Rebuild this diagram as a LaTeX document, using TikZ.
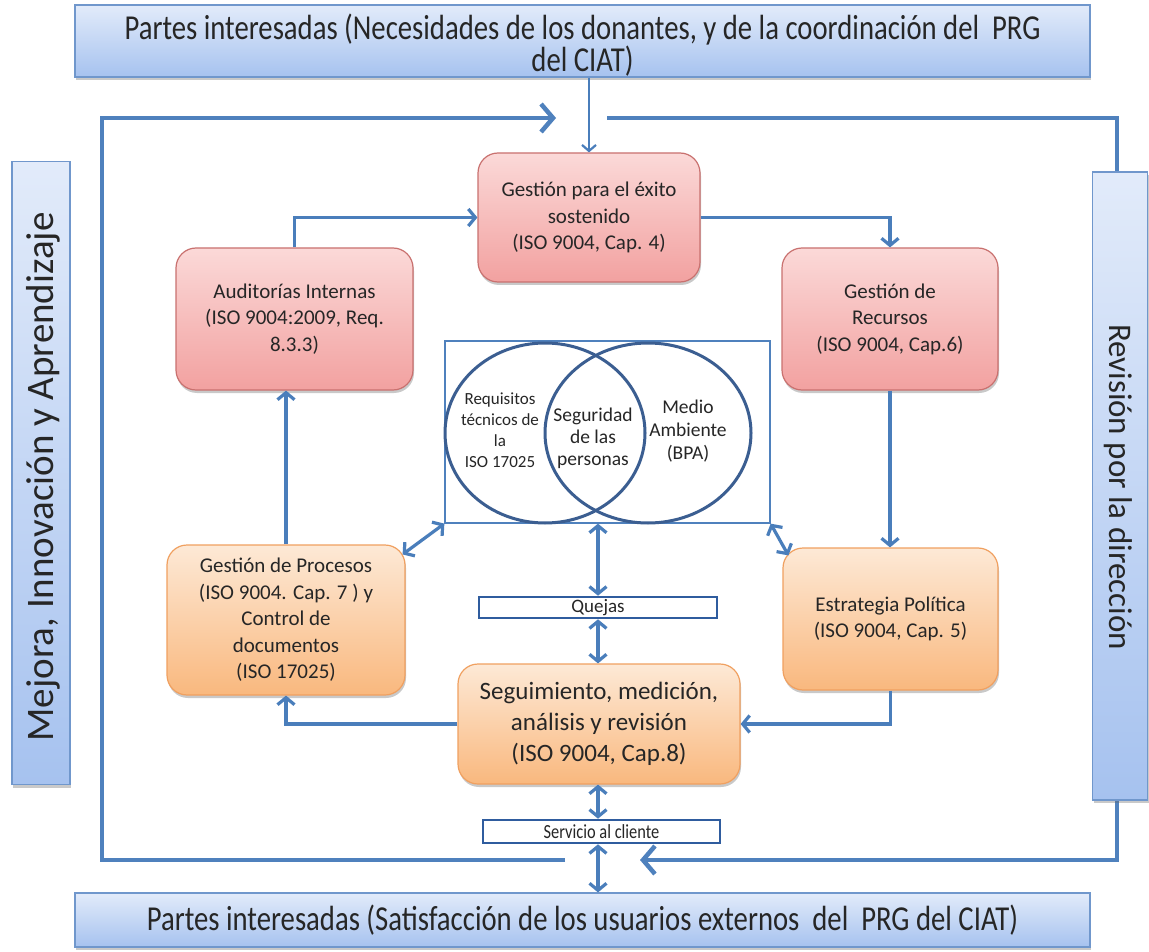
\documentclass[tikz,border=0pt]{standalone}
\usepackage{fontspec}
\setmainfont{Carlito}
\newfontfamily\condfont[FakeStretch=0.82]{Carlito}
\usetikzlibrary{arrows.meta,shadows,calc}
\definecolor{conn}{HTML}{4A7EBB}
\definecolor{framec}{HTML}{4F81BD}
\definecolor{vennc}{HTML}{3B5E91}
\definecolor{pinktop}{HTML}{FBD9D8}
\definecolor{pinkbot}{HTML}{F2A1A0}
\definecolor{pinkline}{HTML}{C9716F}
\definecolor{orgtop}{HTML}{FDE9D6}
\definecolor{orgbot}{HTML}{F9B87E}
\definecolor{orgline}{HTML}{F0A060}
\definecolor{bluetop}{HTML}{E2EBFA}
\definecolor{bluebot}{HTML}{A6C2EF}
\definecolor{blueline}{HTML}{7097CC}
\definecolor{txt}{HTML}{262626}
\definecolor{smallbox}{HTML}{2F5C9E}
\tikzset{
  shad/.style={drop shadow={shadow xshift=1pt,shadow yshift=-3pt,opacity=0.35,fill=black!60}},
  pinkbox/.style={shad,rounded corners=20pt,draw=pinkline,line width=1.2pt,top color=pinktop,bottom color=pinkbot,
     inner sep=0pt,align=center,text=txt,font=\fontsize{21}{26.5}\selectfont},
  orgbox/.style={shad,rounded corners=20pt,draw=orgline,line width=1.2pt,top color=orgtop,bottom color=orgbot,
     inner sep=0pt,align=center,text=txt,font=\fontsize{21}{26.5}\selectfont},
  banner/.style={shad,draw=blueline,line width=1.2pt,top color=bluetop,bottom color=bluebot,
     inner sep=0pt,align=center,text=txt},
  bantext/.style={inner sep=0pt,align=center,text=txt},
  wbox/.style={draw=smallbox,line width=2.6pt,fill=white,inner sep=0pt,text=txt},
  conn/.style={draw=conn,line width=3.2pt,-{Straight Barb[length=7pt,width=17pt]}},
  thinconn/.style={draw=conn,line width=2.2pt,-{Straight Barb[length=6pt,width=14pt]}},
  dbl/.style={draw=conn,line width=3.2pt,{Straight Barb[length=7pt,width=17pt]}-{Straight Barb[length=7pt,width=17pt]}},
  frameline/.style={draw=framec,line width=4.5pt,line join=miter},
  framearrow/.style={frameline,-{Straight Barb[length=12pt,width=28pt]}},
}
\begin{document}
\begin{tikzpicture}[x=1pt,y=-1pt]
\useasboundingbox[fill=white] (0,0) rectangle (1149,952);

% frame
\coordinate (fa1) at (565,860);
\coordinate (fa2) at (102,860);
\coordinate (fa3) at (102,118);
\coordinate (fa4) at (556,118);
\coordinate (fb1) at (607,118);
\coordinate (fb2) at (1117,118);
\coordinate (fb3) at (1117,860);
\coordinate (fb4) at (640,860);
\draw[framearrow] (fa1) -- (fa2) -- (fa3) -- (fa4);
\draw[framearrow] (fb1) -- (fb2) -- (fb3) -- (fb4);

% banners
\node[banner,minimum width=1015,minimum height=72] (top) at (582.5,41) {};
\node[bantext,font=\condfont\fontsize{35}{32}\selectfont] (toptext) at (582.5,45)
  {Partes interesadas (Necesidades de los donantes, y de la coordinación del~~PRG\\del CIAT)};
\node[banner,minimum width=1015,minimum height=54] (bottom) at (582.5,920) {};
\node[bantext,font=\condfont\fontsize{35}{36}\selectfont] (bottomtext) at (582.5,920)
  {Partes interesadas (Satisfacción de los usuarios externos~~del~~PRG del CIAT)};
\node[banner,minimum width=58,minimum height=623] (left) at (41,473) {};
\node[bantext,rotate=90,font=\fontsize{39}{40}\selectfont] (lefttext) at (43,477)
  {Mejora, Innovación y Aprendizaje};
\node[banner,minimum width=55,minimum height=628] (right) at (1120,486) {};
\node[bantext,rotate=-90,font=\fontsize{33}{35}\selectfont] (righttext) at (1118,487)
  {Revisión por la dirección};

% boxes
\node[pinkbox,minimum width=222,minimum height=129] (gexito) at (589,217.5)
  {Gestión para el éxito\\sostenido\\(ISO 9004, Cap. 4)};
\node[pinkbox,minimum width=237,minimum height=142] (audit) at (294.5,319)
  {Auditorías Internas\\(ISO 9004:2009, Req.\\8.3.3)};
\node[pinkbox,minimum width=216,minimum height=142] (recur) at (890,319)
  {Gestión de\\Recursos\\(ISO 9004, Cap.6)};
\node[orgbox,minimum width=238,minimum height=150] (proc) at (286,620)
  {Gestión de Procesos\\(ISO 9004. Cap. 7 ) y\\Control de\\documentos\\(ISO 17025)};
\node[orgbox,minimum width=215,minimum height=142] (estr) at (890.5,619)
  {Estrategia Política\\(ISO 9004, Cap. 5)};
\node[orgbox,minimum width=282,minimum height=120,font=\fontsize{25}{31}\selectfont] (segui) at (599,724)
  {Seguimiento, medición,\\análisis y revisión\\(ISO 9004, Cap.8)};

% venn
\node[draw=framec,line width=1.3pt,minimum width=325,minimum height=182,inner sep=0pt] (venn) at (607.5,432) {};
\draw[vennc,line width=3pt] (545,433) ellipse [x radius=100,y radius=90];
\draw[vennc,line width=3pt] (648,433) ellipse [x radius=103,y radius=90];
\node[align=center,text=txt,font=\fontsize{17}{21}\selectfont] (req) at (500,430)
  {Requisitos\\técnicos de\\la\\ISO 17025};
\node[align=center,text=txt,font=\fontsize{19.5}{22}\selectfont] (seg) at (593,438)
  {Seguridad\\de las\\personas};
\node[align=center,text=txt,font=\fontsize{19.5}{23}\selectfont] (med) at (688,431)
  {Medio\\Ambiente\\(BPA)};

% small boxes
\node[wbox,minimum width=238,minimum height=21,font=\fontsize{19}{20}\selectfont] (quejas) at (598,607.5) {Quejas};
\node[wbox,minimum width=237,minimum height=23,font=\condfont\fontsize{20}{22}\selectfont] (serv) at (601.5,831.5) {Servicio al cliente};

% connectors
\draw[thinconn] (top.south -| gexito.north) -- (gexito.north);
\draw[conn] (audit.north) |- (gexito.west);
\draw[conn] (gexito.east) -| (recur.north);
\draw[conn] (recur.south) -- (estr.north -| recur.south);
\draw[conn] (estr.south) |- (segui.east);
\draw[conn] (segui.west) -| (proc.south);
\draw[conn] (proc.north) -- (proc.north |- audit.south);
\draw[dbl] (venn.south west) -- ($(proc.north east)+(-3,10)$);
\draw[dbl] (venn.south east) -- ($(estr.north west)+(6,8)$);
\draw[dbl] (quejas.north |- venn.south) -- (quejas.north);
\draw[dbl] (quejas.south) -- (quejas.south |- segui.north);
\draw[dbl] (segui.south -| quejas.south) -- (serv.north -| quejas.south);
\draw[dbl] (serv.south -| quejas.south) -- (bottom.north -| quejas.south);
\end{tikzpicture}
\end{document}
